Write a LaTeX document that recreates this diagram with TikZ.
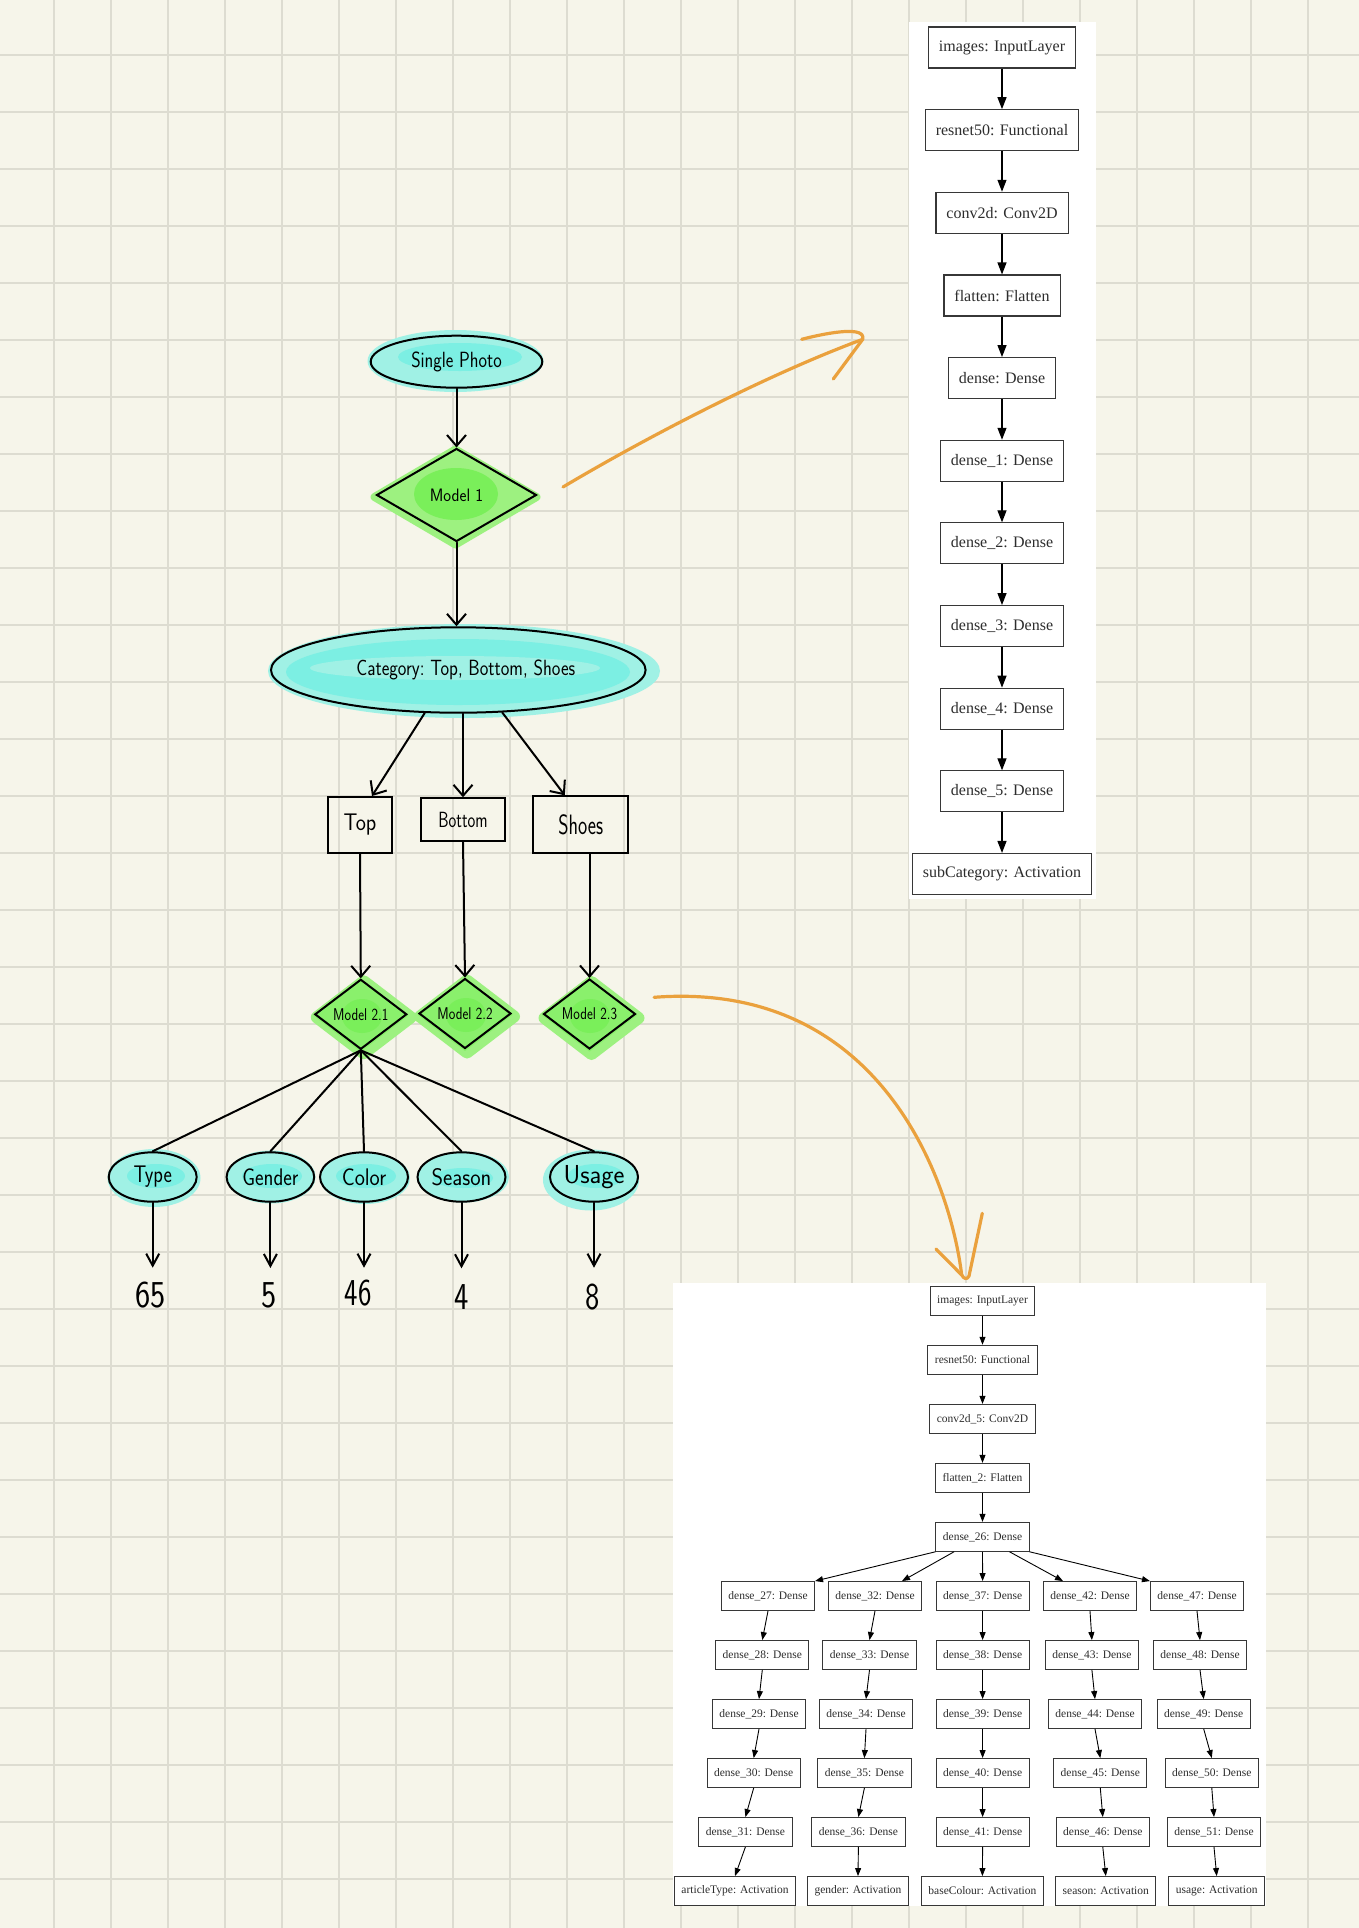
\documentclass[tikz,border=0pt]{standalone}
\usepackage{fontspec}
\setmainfont{Liberation Serif}
\usepackage{graphicx}
\usetikzlibrary{shapes.geometric,arrows.meta,calc}
\definecolor{paper}{RGB}{246,245,234}
\definecolor{gridc}{RGB}{221,220,209}
\definecolor{cyanout}{RGB}{160,241,229}
\definecolor{cyanin}{RGB}{124,239,227}
\definecolor{greenout}{RGB}{157,241,128}
\definecolor{greenmid}{RGB}{138,240,108}
\definecolor{greenin}{RGB}{122,239,90}
\definecolor{orangec}{RGB}{234,161,61}
\definecolor{kline}{RGB}{55,55,55}
\definecolor{ktext}{RGB}{45,45,45}
\pgfdeclarelayer{bg}
\pgfsetlayers{bg,main}
\newcommand{\hwt}[3]{\makebox[0pt][c]{\sffamily\fontsize{#1}{#1}\selectfont\scalebox{#2}[1]{#3}}}
\newcommand{\glowdia}[5]{\fill[#5, draw=#5, line width=#4, line join=round] ($(#1.north)+(#2,#3)$) -- ($(#1.east)+(#2,#3)$) -- ($(#1.south)+(#2,#3)$) -- ($(#1.west)+(#2,#3)$) -- cycle;}
\tikzset{
  hwell/.style={ellipse, draw=black, line width=2pt, inner sep=0pt},
  hwdia/.style={diamond, draw=black, line width=2pt, inner sep=0pt},
  hwrect/.style={rectangle, draw=black, line width=2pt, inner sep=0pt},
  hwnum/.style={inner sep=0pt},
  hwline/.style={draw=black, line width=2pt, line cap=round},
  hwarr/.style={hwline, -{Straight Barb[length=11pt,width=19pt]}},
  hwsmall/.style={hwline, -{Straight Barb[length=12pt,width=13pt]}},
  ktop/.style={rectangle, draw=kline, line width=1.1pt, fill=white, text=ktext, font=\fontsize{16}{16}\selectfont, inner xsep=10.5pt, inner ysep=0pt, minimum height=41pt},
  kbot/.style={rectangle, draw=kline, line width=0.9pt, fill=white, text=ktext, font=\fontsize{11.5}{11.5}\selectfont, inner xsep=7pt, inner ysep=0pt, minimum height=29pt},
  karr/.style={draw=black, line width=1.2pt, -{Triangle[length=12pt,width=9pt]}},
  karrs/.style={draw=black, line width=0.9pt, -{Triangle[length=8pt,width=6pt]}},
  orangeline/.style={draw=orangec, line width=3.2pt, line cap=round, line join=round}
}
\begin{document}
\begin{tikzpicture}[x=1pt,y=-1pt]
\useasboundingbox (0,0) rectangle (1359,1928);
% white panels of the Keras plots
\fill[white] (909,22) rectangle (1096,899);
\fill[white] (673,1283) rectangle (1266,1906);

% ---------- hand-drawn flow ----------
\node[hwell, minimum width=171.6, minimum height=52] (sp) at (456.5,361.7) {\hwt{22}{0.82}{Single Photo}};
\node[hwdia, minimum width=160, minimum height=93] (m1) at (456.5,495) {\hwt{18}{0.92}{Model 1}};
\node[hwell, minimum width=374.6, minimum height=85.4] (cat) at (458.3,670) {\hwt{22}{0.83}{\hspace{18pt}Category:\ Top, Bottom, Shoes}};
\node[hwrect, minimum width=64, minimum height=56] (top) at (360,825) {\hwt{24}{0.9}{Top}};
\node[hwrect, minimum width=83.3, minimum height=43] (bot) at (463,819.8) {\hwt{22}{0.75}{Bottom}};
\node[hwrect, minimum width=95, minimum height=57] (shoes) at (580.8,824.8) {\hwt{28}{0.7}{Shoes}};
\node[hwdia, minimum width=92, minimum height=70] (m21) at (360.8,1014.3) {\hwt{17}{0.82}{Model 2.1}};
\node[hwdia, minimum width=92, minimum height=70] (m22) at (465,1013.5) {\hwt{17}{0.82}{Model 2.2}};
\node[hwdia, minimum width=92, minimum height=70] (m23) at (589.5,1014) {\hwt{17}{0.82}{Model 2.3}};
\node[hwell, minimum width=88, minimum height=49.4] (type) at (152.7,1177) {\hwt{24}{0.83}{Type}};
\node[hwell, minimum width=87.6, minimum height=49.4] (gender) at (270.4,1177) {\hwt{24}{0.85}{Gender}};
\node[hwell, minimum width=88, minimum height=49.4] (color) at (364,1177) {\hwt{24}{0.9}{Color}};
\node[hwell, minimum width=88, minimum height=49.4] (season) at (461.5,1177) {\hwt{24}{0.92}{Season}};
\node[hwell, minimum width=88, minimum height=49.4] (usage) at (594,1177) {\hwt{26}{1.0}{Usage}};
\node[hwnum] (n65) at (150.8,1295) {\hwt{38}{0.85}{65}};
\node[hwnum] (n5) at (268.7,1295) {\hwt{38}{0.85}{5}};
\node[hwnum] (n46) at (358.2,1293) {\hwt{38}{0.75}{46}};
\node[hwnum] (n4) at (461.5,1297) {\hwt{38}{0.8}{4}};
\node[hwnum] (n8) at (592.8,1297) {\hwt{38}{0.8}{8}};

\draw[hwarr] (sp.south) -- (m1.north);
\draw[hwarr] (m1.south) -- (m1.south |- cat.north);
\draw[hwarr] (cat.232) -- ($(top.north)+(12,0)$);
\draw[hwarr] (cat.south -| bot.north) -- (bot.north);
\draw[hwarr] (cat.-44) -- ($(shoes.north)+(-16,0)$);
\draw[hwarr] (top.south) -- (m21.north);
\draw[hwarr] (bot.south) -- (m22.north);
\draw[hwarr] (m23.north |- shoes.south) -- (m23.north);
\foreach \n in {type,gender,color,season,usage} \draw[hwline] (m21.south) -- (\n.north);
\draw[hwsmall, shorten >=14pt] (type.south) -- (type.south |- n65.north);
\draw[hwsmall, shorten >=14pt] (gender.south) -- (gender.south |- n5.north);
\draw[hwsmall, shorten >=12pt] (color.south) -- (color.south |- n46.north);
\draw[hwsmall, shorten >=16pt] (season.south) -- (season.south |- n4.north);
\draw[hwsmall, shorten >=16pt] (usage.south) -- (usage.south |- n8.north);

% ---------- Keras plot, top ----------
\node[ktop] (t0) at (1002,47.5) {images: InputLayer};
\node[ktop] (t1) at (1002,130.2) {resnet50: Functional};
\node[ktop] (t2) at (1002,212.8) {conv2d: Conv2D};
\node[ktop] (t3) at (1002,295.5) {flatten: Flatten};
\node[ktop] (t4) at (1002,378.1) {dense: Dense};
\node[ktop] (t5) at (1002,460.8) {dense\_1: Dense};
\node[ktop] (t6) at (1002,543.4) {dense\_2: Dense};
\node[ktop] (t7) at (1002,626.1) {dense\_3: Dense};
\node[ktop] (t8) at (1002,708.7) {dense\_4: Dense};
\node[ktop] (t9) at (1002,791.4) {dense\_5: Dense};
\node[ktop] (t10) at (1002,874) {subCategory: Activation};
\foreach \i [count=\j from 1] in {0,...,9} \draw[karr] (t\i.south) -- (t\j.north);

% ---------- Keras plot, bottom ----------
\node[kbot] (b0) at (982.5,1300.7) {images: InputLayer};
\node[kbot] (b1) at (982.5,1359.7) {resnet50: Functional};
\node[kbot] (b2) at (982.5,1418.8) {conv2d\_5: Conv2D};
\node[kbot] (b3) at (982.5,1477.8) {flatten\_2: Flatten};
\node[kbot] (d26) at (982.5,1536.8) {dense\_26: Dense};
\draw[karrs] (b0.south) -- (b1.north);
\draw[karrs] (b1.south) -- (b2.north);
\draw[karrs] (b2.south) -- (b3.north);
\draw[karrs] (b3.south) -- (d26.north);

\node[kbot] (d27) at (768,1596) {dense\_27: Dense};
\node[kbot] (d28) at (762.3,1655) {dense\_28: Dense};
\node[kbot] (d29) at (759,1714) {dense\_29: Dense};
\node[kbot] (d30) at (753.7,1773) {dense\_30: Dense};
\node[kbot] (d31) at (745.4,1832) {dense\_31: Dense};
\node[kbot] (aType) at (735,1891) {articleType: Activation};

\node[kbot] (d32) at (875,1596) {dense\_32: Dense};
\node[kbot] (d33) at (869.5,1655) {dense\_33: Dense};
\node[kbot] (d34) at (866,1714) {dense\_34: Dense};
\node[kbot] (d35) at (864.4,1773) {dense\_35: Dense};
\node[kbot] (d36) at (858.4,1832) {dense\_36: Dense};
\node[kbot] (aGender) at (858,1891) {gender: Activation};

\node[kbot] (d37) at (982.6,1596) {dense\_37: Dense};
\node[kbot] (d38) at (982.6,1655) {dense\_38: Dense};
\node[kbot] (d39) at (982.6,1714) {dense\_39: Dense};
\node[kbot] (d40) at (982.6,1773) {dense\_40: Dense};
\node[kbot] (d41) at (982.6,1832) {dense\_41: Dense};
\node[kbot] (aColour) at (982.4,1891) {baseColour: Activation};

\node[kbot] (d42) at (1090,1596) {dense\_42: Dense};
\node[kbot] (d43) at (1091.9,1655) {dense\_43: Dense};
\node[kbot] (d44) at (1095,1714) {dense\_44: Dense};
\node[kbot] (d45) at (1100.3,1773) {dense\_45: Dense};
\node[kbot] (d46) at (1102.8,1832) {dense\_46: Dense};
\node[kbot] (aSeason) at (1105.8,1891) {season: Activation};

\node[kbot] (d47) at (1197,1596) {dense\_47: Dense};
\node[kbot] (d48) at (1200,1655) {dense\_48: Dense};
\node[kbot] (d49) at (1203.7,1714) {dense\_49: Dense};
\node[kbot] (d50) at (1211.8,1773) {dense\_50: Dense};
\node[kbot] (d51) at (1214,1832) {dense\_51: Dense};
\node[kbot] (aUsage) at (1216.7,1891) {usage: Activation};

\draw[karrs] (d26.south west) -- (d27.north east);
\draw[karrs] ($(d26.south west)+(18.6,0)$) -- ($(d32.north)+(27,0)$);
\draw[karrs] (d26.south) -- (d37.north);
\draw[karrs] ($(d26.south)+(27,0)$) -- ($(d42.north)+(-27,0)$);
\draw[karrs] (d26.south east) -- (d47.north west);

\foreach \a/\b in {d27/d28,d28/d29,d29/d30,d30/d31,d31/aType,
                   d32/d33,d33/d34,d34/d35,d35/d36,d36/aGender,
                   d37/d38,d38/d39,d39/d40,d40/d41,d41/aColour,
                   d42/d43,d43/d44,d44/d45,d45/d46,d46/aSeason,
                   d47/d48,d48/d49,d49/d50,d50/d51,d51/aUsage}
  \draw[karrs] (\a.south) -- (\b.north);

% ---------- orange hand arrows ----------
\coordinate (o1s) at ($(m1.east)+(25.5,-8)$);
\coordinate (o1e) at (862.7,339.3);
\draw[orangeline] (o1s) .. controls (648.7,436) and (768.9,374) .. (o1e);
\draw[orangeline] (801.7,339.3) .. controls (830,332) and (866,326) .. (o1e) -- (833.3,379);

\coordinate (o2s) at ($(m23.east)+(17.6,-16.7)$);
\coordinate (o2e) at (961.7,1275);
\draw[orangeline] (o2s) .. controls (880,980) and (950,1180) .. (o2e);
\draw[orangeline] (936,1249) -- (o2e) .. controls (964,1279) and (967,1280) .. (969,1276) -- (982.3,1213.3);

% ---------- paper, grid and highlighter ----------
\begin{pgfonlayer}{bg}
\fill[paper] (0,0) rectangle (1359,1928);
\foreach \k in {0,...,22} \draw[gridc, line width=2.3pt] ({54+57*\k},0) -- ({54+57*\k},1928);
\foreach \k in {0,...,32} \draw[gridc, line width=2.3pt] (0,{55+57*\k}) -- (1359,{55+57*\k});
% cyan highlights
\fill[cyanout] (455.5,361) ellipse [x radius=88, y radius=31];
\fill[cyanin] (460,357) ellipse [x radius=62, y radius=14];
\fill[cyanout] (464,671) ellipse [x radius=196, y radius=47];
\fill[cyanin] (458,672) ellipse [x radius=172, y radius=33];
\fill[cyanout] (455,668) ellipse [x radius=145, y radius=12];
\fill[cyanout] (154,1178) ellipse [x radius=46.5, y radius=29];
\fill[cyanin] (156,1176) ellipse [x radius=29, y radius=12];
\fill[cyanout] (271,1177) ellipse [x radius=44.5, y radius=26.5];
\fill[cyanin] (272,1176) ellipse [x radius=30, y radius=12];
\fill[cyanout] (365,1178) ellipse [x radius=45, y radius=26];
\fill[cyanin] (366,1176) ellipse [x radius=30, y radius=12];
\fill[cyanout] (463,1177) ellipse [x radius=46, y radius=25.5];
\fill[cyanin] (463,1178) ellipse [x radius=30, y radius=10];
\fill[cyanout] (591,1180) ellipse [x radius=48, y radius=30.5];
\fill[cyanin] (596,1176) ellipse [x radius=28, y radius=12];
% green highlights
\glowdia{m1}{-1}{2}{8pt}{greenout}
\fill[greenin] (456,494) ellipse [x radius=42, y radius=26];
\glowdia{m21}{3}{3}{12pt}{greenout}
\glowdia{m21}{0}{1}{1pt}{greenmid}
\fill[greenin] (362,1016) ellipse [x radius=20, y radius=17];
\glowdia{m22}{2}{3}{12pt}{greenout}
\glowdia{m22}{0}{1}{1pt}{greenmid}
\fill[greenin] (466,1015) ellipse [x radius=20, y radius=17];
\glowdia{m23}{2}{4}{12pt}{greenout}
\glowdia{m23}{0}{1}{1pt}{greenmid}
\fill[greenin] (590,1016) ellipse [x radius=20, y radius=17];
\end{pgfonlayer}
\end{tikzpicture}
\end{document}
